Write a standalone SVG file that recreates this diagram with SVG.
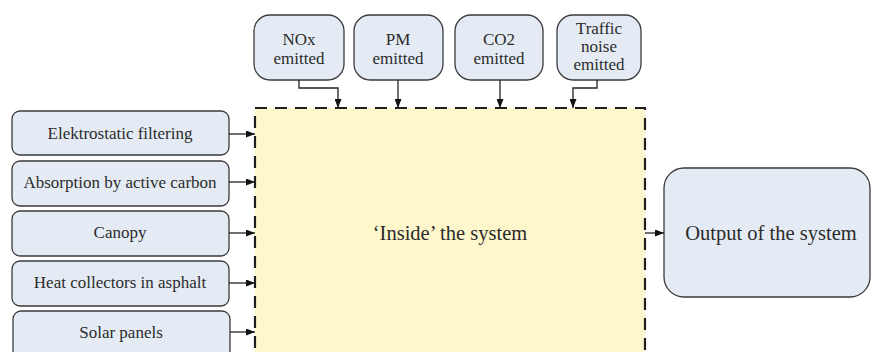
<svg xmlns="http://www.w3.org/2000/svg" width="871" height="352" viewBox="0 0 871 352">
  <style>
    .node { fill: #e5ebf5; stroke: #3a3a3a; stroke-width: 1.3; }
    .sys { fill: #fff7cc; stroke: #1e1e1e; stroke-width: 2.2; stroke-dasharray: 12 8; }
    .lbl { font-family: "Liberation Serif", "Times New Roman", serif; fill: #2b2b2b; text-anchor: middle; }
    .sm { font-size: 17px; }
    .lg { font-size: 20.5px; }
    .wire { fill: none; stroke: #222; stroke-width: 1.3; }
  </style>
  <defs>
    <marker id="arr" markerWidth="9" markerHeight="7" refX="9" refY="3.5" orient="auto" markerUnits="userSpaceOnUse">
      <path d="M0,0 L9,3.5 L0,7 Z" fill="#111"/>
    </marker>
  </defs>
  <rect width="871" height="352" fill="#fff"/>

  <!-- central system boundary -->
  <g id="system">
    <rect class="sys" x="255" y="108" width="390" height="260"/>
    <text class="lbl lg" x="450" y="240">‘Inside’ the system</text>
  </g>

  <!-- emissions entering from above -->
  <g id="nox">
    <rect class="node" x="254" y="15" width="90" height="65" rx="16"/>
    <text class="lbl sm" x="299" y="45">NOx</text>
    <text class="lbl sm" x="299" y="64">emitted</text>
  </g>
  <g id="pm">
    <rect class="node" x="354" y="15" width="89" height="65" rx="16"/>
    <text class="lbl sm" x="398" y="45">PM</text>
    <text class="lbl sm" x="398" y="64">emitted</text>
  </g>
  <g id="co2">
    <rect class="node" x="455" y="15" width="88" height="65" rx="16"/>
    <text class="lbl sm" x="499" y="45">CO2</text>
    <text class="lbl sm" x="499" y="64">emitted</text>
  </g>
  <g id="noise">
    <rect class="node" x="557" y="15" width="84" height="65" rx="16"/>
    <text class="lbl sm" x="599" y="34">Traffic</text>
    <text class="lbl sm" x="599" y="52">noise</text>
    <text class="lbl sm" x="599" y="70">emitted</text>
  </g>

  <!-- measures on the left -->
  <g id="filter">
    <rect class="node" x="12" y="111" width="217" height="44" rx="8"/>
    <text class="lbl sm" x="120" y="139">Elektrostatic filtering</text>
  </g>
  <g id="carbon">
    <rect class="node" x="12" y="161" width="217" height="45" rx="8"/>
    <text class="lbl sm" x="120" y="188">Absorption by active carbon</text>
  </g>
  <g id="canopy">
    <rect class="node" x="12" y="211" width="217" height="45" rx="8"/>
    <text class="lbl sm" x="120" y="238">Canopy</text>
  </g>
  <g id="heat">
    <rect class="node" x="12" y="261" width="217" height="45" rx="8"/>
    <text class="lbl sm" x="120" y="288">Heat collectors in asphalt</text>
  </g>
  <g id="solar">
    <rect class="node" x="13" y="311" width="217" height="50" rx="8"/>
    <text class="lbl sm" x="121" y="338">Solar panels</text>
  </g>

  <!-- result on the right -->
  <g id="output">
    <rect class="node" x="664" y="168" width="206" height="129" rx="20"/>
    <text class="lbl lg" x="771" y="240">Output of the system</text>
  </g>

  <g id="connectors">
    <path class="wire" d="M299,80 V88 H338 V108" marker-end="url(#arr)"/>
    <path class="wire" d="M398,80 V108" marker-end="url(#arr)"/>
    <path class="wire" d="M500,80 V108" marker-end="url(#arr)"/>
    <path class="wire" d="M597,80 V88 H573 V108" marker-end="url(#arr)"/>
    <path class="wire" d="M229,134 H255" marker-end="url(#arr)"/>
    <path class="wire" d="M229,182 H255" marker-end="url(#arr)"/>
    <path class="wire" d="M229,233 H255" marker-end="url(#arr)"/>
    <path class="wire" d="M229,283 H255" marker-end="url(#arr)"/>
    <path class="wire" d="M230,332 H255" marker-end="url(#arr)"/>
    <path class="wire" d="M645,233 H664" marker-end="url(#arr)"/>
  </g>
</svg>
